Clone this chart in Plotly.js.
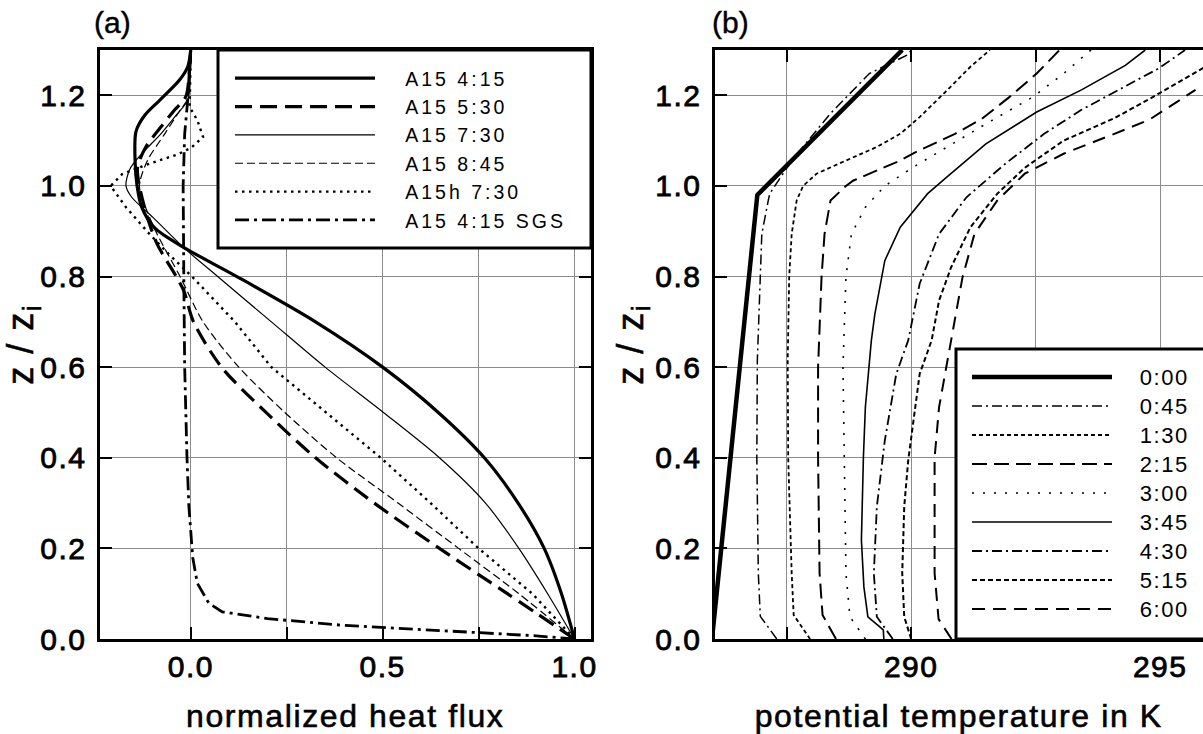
<!DOCTYPE html>
<html>
<head>
<meta charset="utf-8">
<script src="https://cdn.plot.ly/plotly-3.0.1.min.js"></script>
<style>
html,body{margin:0;padding:0;background:#fff;overflow:hidden}
#chart{width:1203px;height:734px}
.xtick text,.ytick text,.x2tick text,.y2tick text{letter-spacing:1.5px;stroke:#000;stroke-width:0.8px}
.xtitle,.x2title{letter-spacing:1.6px;stroke:#000;stroke-width:0.6px}
.ytitle,.y2title{letter-spacing:1.5px;stroke:#000;stroke-width:0.6px}
.annotation-text{stroke:#000;stroke-width:0.4px}
</style>
</head>
<body>
<div id="chart"></div>
<script>
// ---------- Panel (a): normalized heat flux vs z/zi ----------
var a415_z = [0, 0.1, 0.2, 0.3, 0.4, 0.5, 0.6, 0.7, 0.8, 0.865, 0.908, 0.953, 1.0, 1.05, 1.12, 1.156, 1.19, 1.233, 1.263, 1.3];
var a415_x = [1.0, 0.966, 0.921, 0.853, 0.765, 0.645, 0.50, 0.325, 0.12, -0.02, -0.095, -0.128, -0.14, -0.145, -0.143, -0.12, -0.08, -0.03, -0.008, 0.0];

var a530_z = [0, 0.1, 0.2, 0.3, 0.4, 0.5, 0.6, 0.7, 0.768, 0.8, 0.872, 0.93, 1.0, 1.04, 1.085, 1.13, 1.167, 1.197, 1.25, 1.3];
var a530_x = [1.0, 0.825, 0.648, 0.478, 0.325, 0.196, 0.08, 0.007, -0.018, -0.038, -0.088, -0.113, -0.134, -0.139, -0.118, -0.078, -0.043, -0.013, -0.004, 0.0];

var a730_z = [0, 0.1, 0.2, 0.3, 0.4, 0.5, 0.6, 0.7, 0.8, 0.865, 0.93, 0.975, 1.0, 1.037, 1.07, 1.115, 1.156, 1.19, 1.25, 1.3];
var a730_x = [1.0, 0.93, 0.855, 0.768, 0.648, 0.502, 0.35, 0.21, 0.07, -0.02, -0.098, -0.154, -0.169, -0.159, -0.129, -0.078, -0.038, -0.008, -0.002, 0.0];

var a845_z = [0, 0.1, 0.2, 0.3, 0.4, 0.5, 0.6, 0.7, 0.8, 0.894, 0.953, 1.0, 1.056, 1.115, 1.167, 1.192, 1.25, 1.3];
var a845_x = [1.0, 0.855, 0.698, 0.54, 0.38, 0.245, 0.125, 0.032, -0.028, -0.088, -0.118, -0.134, -0.113, -0.068, -0.028, -0.008, -0.002, 0.0];

var ah730_z = [0, 0.1, 0.2, 0.3, 0.4, 0.5, 0.6, 0.7, 0.8, 0.85, 0.894, 0.953, 1.0, 1.026, 1.049, 1.07, 1.085, 1.108, 1.145, 1.174, 1.22, 1.3];
var ah730_x = [1.0, 0.89, 0.75, 0.625, 0.495, 0.352, 0.21, 0.115, 0.003, -0.058, -0.108, -0.169, -0.209, -0.179, -0.108, -0.033, 0.002, 0.032, 0.017, -0.003, -0.002, 0.0];

var sgs_z = [0, 0.007, 0.014, 0.026, 0.03, 0.045, 0.06, 0.079, 0.123, 0.18, 0.292, 0.4, 0.6, 0.77, 1.0, 1.115, 1.19, 1.3];
var sgs_x = [1.0, 0.9, 0.75, 0.5, 0.4, 0.2, 0.082, 0.047, 0.017, 0.005, -0.005, -0.01, -0.016, -0.018, -0.02, -0.016, -0.008, -0.001];

var namesA = ['A15 4:15', 'A15 5:30', 'A15 7:30', 'A15 8:45', 'A15h 7:30', 'A15 4:15 SGS'];

// ---------- Panel (b): potential temperature vs z/zi ----------
var t000_z = [0, 0.98, 1.3];
var t000_th = [286.0, 286.91, 289.82];

var t045_z = [0, 0.05, 0.145, 0.4, 0.614, 0.8, 0.894, 0.968, 0.983, 1.056, 1.16, 1.248, 1.29, 1.3];
var t045_th = [287.3, 286.97, 286.93, 286.9, 286.91, 286.97, 287.0, 287.13, 287.16, 287.6, 288.38, 289.16, 289.94, 290.0];

var t130_z = [0, 0.053, 0.145, 0.4, 0.614, 0.8, 0.894, 0.968, 1.0, 1.027, 1.056, 1.086, 1.115, 1.152, 1.211, 1.263, 1.3];
var t130_th = [287.97, 287.64, 287.6, 287.53, 287.52, 287.55, 287.6, 287.7, 287.83, 288.1, 288.69, 289.31, 289.78, 290.17, 290.72, 291.19, 291.58];

var t215_z = [0, 0.053, 0.145, 0.4, 0.6, 0.8, 0.894, 0.968, 1.0, 1.012, 1.056, 1.075, 1.115, 1.148, 1.196, 1.248, 1.3];
var t215_th = [288.49, 288.22, 288.16, 288.13, 288.13, 288.2, 288.26, 288.38, 288.69, 288.84, 289.78, 290.1, 290.88, 291.42, 291.97, 292.52, 292.98];

var t300_z = [0, 0.049, 0.145, 0.4, 0.6, 0.8, 0.894, 0.953, 1.0, 1.04, 1.086, 1.137, 1.196, 1.248, 1.3];
var t300_th = [289.08, 288.77, 288.69, 288.65, 288.63, 288.69, 288.8, 289.08, 289.47, 290.02, 290.72, 291.5, 292.44, 293.06, 293.61];

var t345_z = [0, 0.02, 0.049, 0.115, 0.218, 0.4, 0.512, 0.659, 0.717, 0.835, 0.909, 0.983, 1.02, 1.093, 1.163, 1.212, 1.266, 1.3];
var t345_th = [289.45, 289.44, 289.13, 289.05, 289.0, 289.04, 289.08, 289.2, 289.27, 289.47, 289.78, 290.33, 290.72, 291.5, 292.52, 293.42, 294.3, 294.7];

var t430_z = [0, 0.049, 0.145, 0.292, 0.438, 0.585, 0.659, 0.784, 0.894, 0.975, 1.049, 1.115, 1.168, 1.26, 1.3];
var t430_th = [289.63, 289.31, 289.25, 289.31, 289.47, 289.7, 289.94, 290.17, 290.56, 291.11, 291.89, 292.67, 293.42, 294.98, 295.5];

var t515_z = [0, 0.049, 0.145, 0.292, 0.394, 0.585, 0.659, 0.747, 0.82, 0.909, 0.983, 1.04, 1.1, 1.15, 1.196, 1.263];
var t515_th = [290.0, 289.86, 289.82, 289.86, 289.94, 290.17, 290.41, 290.56, 290.8, 291.19, 291.73, 292.28, 293.06, 294.09, 294.85, 295.91];

var t600_z = [0, 0.044, 0.145, 0.4, 0.512, 0.659, 0.798, 0.894, 0.968, 1.027, 1.071, 1.115, 1.146, 1.212];
var t600_th = [290.81, 290.55, 290.47, 290.47, 290.56, 290.8, 291.03, 291.27, 291.73, 292.28, 293.06, 294.08, 294.78, 295.71];

var namesB = ['0:00', '0:45', '1:30', '2:15', '3:00', '3:45', '4:30', '5:15', '6:00'];

// tick labels
var xTickA = [0, 0.5, 1.0];
var xTickAText = ['0.0', '0.5', '1.0'];
var xMinorA = [0.25, 0.75];
var yTick = [0, 0.2, 0.4, 0.6, 0.8, 1.0, 1.2];
var yTickText = ['0.0', '0.2', '0.4', '0.6', '0.8', '1.0', '1.2'];
var xTickB = [290, 295];
var xTickBText = ['290', '295'];
var xMinorB = [287.5, 292.5];

// ---------- build ----------
var W = 1203, H = 734;
var FONT = 'Liberation Sans, Arial, Helvetica, sans-serif';
var NB = '\u00a0\u00a0\u00a0';

var seriesA = [
  {x: a415_x, y: a415_z, w: 3.2, d: 'solid', s: 'spline'},
  {x: a530_x, y: a530_z, w: 3.2, d: '17px,8px', s: 'spline'},
  {x: a730_x, y: a730_z, w: 1.2, d: 'solid', s: 'spline'},
  {x: a845_x, y: a845_z, w: 1.2, d: '8px,4px', s: 'spline'},
  {x: ah730_x, y: ah730_z, w: 2.4, d: '2.5px,4.5px', s: 'linear'},
  {x: sgs_x, y: sgs_z, w: 2.8, d: '14px,5px,3px,5px', s: 'linear'}
];
var seriesB = [
  {x: t000_th, y: t000_z, w: 4.5, d: 'solid'},
  {x: t045_th, y: t045_z, w: 1.5, d: '10px,4px,2px,4px'},
  {x: t130_th, y: t130_z, w: 1.8, d: '4px,3px'},
  {x: t215_th, y: t215_z, w: 2.0, d: '15px,7px'},
  {x: t300_th, y: t300_z, w: 1.6, d: '2px,9px'},
  {x: t345_th, y: t345_z, w: 1.6, d: 'solid'},
  {x: t430_th, y: t430_z, w: 1.8, d: '10px,4px,2px,4px'},
  {x: t515_th, y: t515_z, w: 2.0, d: '5px,3px'},
  {x: t600_th, y: t600_z, w: 2.0, d: '13px,8px'}
];

var traces = [];
seriesA.forEach(function (s, i) {
  traces.push({
    type: 'scatter', mode: 'lines', x: s.x, y: s.y, xaxis: 'x', yaxis: 'y',
    name: '<span style="letter-spacing:3px">' + NB + namesA[i] + '</span>', legend: 'legend',
    line: {color: '#000', width: s.w, dash: s.d, shape: s.s, smoothing: 0.8}
  });
});
seriesB.forEach(function (s, i) {
  traces.push({
    type: 'scatter', mode: 'lines', x: s.x, y: s.y, xaxis: 'x2', yaxis: 'y2',
    name: '<span style="font-size:22px;letter-spacing:1.5px">' + NB + namesB[i] + '</span>', legend: 'legend2',
    line: {color: '#000', width: s.w, dash: s.d}
  });
});

var yDom = [(H - 639) / H, (H - 50) / H];
function axBase(minorVals) {
  var a = {
    showline: true, linewidth: 3, linecolor: '#000', mirror: 'ticks',
    ticks: 'inside', ticklen: 12, tickwidth: 2, tickcolor: '#000',
    showgrid: true, gridcolor: '#8c8c8c', gridwidth: 1, zeroline: false,
    tickfont: {family: FONT, size: 30, color: '#000'}, fixedrange: true
  };
  if (minorVals) {
    a.minor = {tickmode: 'array', tickvals: minorVals, ticks: 'inside', ticklen: 12, tickwidth: 2,
               tickcolor: '#000', showgrid: true, gridcolor: '#8c8c8c', gridwidth: 1};
  }
  return a;
}
var xa = Object.assign(axBase(xMinorA), {
  domain: [99.5 / W, 591 / W], range: [-0.238, 1.043], anchor: 'y',
  tickmode: 'array', tickvals: xTickA, ticktext: xTickAText, ticklabelstandoff: -1,
  title: {text: 'normalized heat flux', font: {family: FONT, size: 32, color: '#000'}, standoff: 34}
});
var ya = Object.assign(axBase(), {
  domain: yDom, range: [0, 1.3], anchor: 'x',
  tickmode: 'array', tickvals: yTick, ticktext: yTickText, ticklabelstandoff: 4,
  title: {text: 'z / z<sub>i</sub>', font: {family: FONT, size: 36, color: '#000'}, standoff: 8}
});
var xb = Object.assign(axBase(xMinorB), {
  domain: [714.5 / W, 1], range: [286.05, 295.86], anchor: 'y2',
  tickmode: 'array', tickvals: xTickB, ticktext: xTickBText, ticklabelstandoff: -1,
  title: {text: 'potential temperature in K', font: {family: FONT, size: 32, color: '#000'}, standoff: 34}
});
var yb = Object.assign(axBase(), {
  domain: yDom, range: [0, 1.3], anchor: 'x2', mirror: false,
  tickmode: 'array', tickvals: yTick, ticktext: yTickText, ticklabelstandoff: 4,
  title: {text: 'z / z<sub>i</sub>', font: {family: FONT, size: 36, color: '#000'}, standoff: 0}
});

var layout = {
  width: W, height: H, margin: {l: 0, r: 0, t: 0, b: 0},
  paper_bgcolor: '#fff', plot_bgcolor: '#fff',
  font: {family: FONT, color: '#000'},
  showlegend: true, hovermode: false,
  xaxis: xa, yaxis: ya, xaxis2: xb, yaxis2: yb,
  legend: {
    x: 230 / W, y: (H - 59) / H, xanchor: 'left', yanchor: 'top',
    bgcolor: 'rgba(0,0,0,0)', borderwidth: 0, itemwidth: 140,
    font: {family: FONT, size: 19.5, color: '#000'}, traceorder: 'normal'
  },
  legend2: {
    x: 967 / W, y: (H - 357.5) / H, xanchor: 'left', yanchor: 'top',
    bgcolor: 'rgba(0,0,0,0)', borderwidth: 0, itemwidth: 140,
    font: {family: FONT, size: 20, color: '#000'}, traceorder: 'normal'
  },
  shapes: [
    {type: 'rect', xref: 'paper', yref: 'paper', layer: 'above',
     x0: 218 / W, x1: 591 / W, y0: (H - 248) / H, y1: (H - 50) / H,
     fillcolor: '#fff', line: {color: '#000', width: 3}},
    {type: 'rect', xref: 'paper', yref: 'paper', layer: 'above',
     x0: 956 / W, x1: 1.01, y0: (H - 639) / H, y1: (H - 349) / H,
     fillcolor: '#fff', line: {color: '#000', width: 3}}
  ],
  annotations: [
    {text: '(a)', xref: 'paper', yref: 'paper', x: 112 / W, y: (H - 23) / H,
     xanchor: 'center', yanchor: 'middle', showarrow: false,
     font: {family: FONT, size: 30, color: '#000'}},
    {text: '(b)', xref: 'paper', yref: 'paper', x: 730 / W, y: (H - 23) / H,
     xanchor: 'center', yanchor: 'middle', showarrow: false,
     font: {family: FONT, size: 30, color: '#000'}}
  ]
};

Plotly.newPlot('chart', traces, layout, {staticPlot: true, displayModeBar: false});
</script>
</body>
</html>
